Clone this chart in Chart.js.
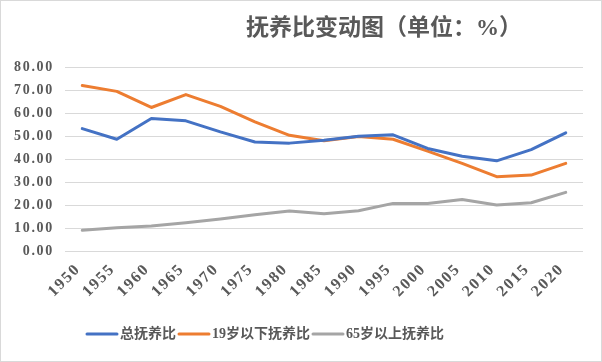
<!DOCTYPE html>
<html>
<head>
<meta charset="utf-8">
<script src="https://cdn.jsdelivr.net/npm/chart.js@4.4.1/dist/chart.umd.min.js"></script>
<style>
  html, body { margin: 0; padding: 0; background: #fff; }
</style>
</head>
<body>
<canvas id="chart" width="602" height="362"></canvas>
<script>
const years = ["1950", "1955", "1960", "1965", "1970", "1975", "1980", "1985",
  "1990", "1995", "2000", "2005", "2010", "2015", "2020"];
const totalRatio = [53.2, 48.6, 57.6, 56.6, 51.8, 47.4, 46.9, 48.2, 49.9, 50.5, 44.6, 41.2, 39.2, 44.1, 51.4];
const youngRatio = [72.0, 69.4, 62.4, 68.0, 62.9, 56.1, 50.3, 47.9, 49.8, 48.6, 43.4, 38.1, 32.3, 33.0, 38.1];
const oldRatio = [9.0, 10.1, 10.9, 12.3, 13.9, 15.8, 17.4, 16.2, 17.5, 20.7, 20.7, 22.4, 20.0, 21.0, 25.5];
const seriesNames = ["总抚养比", "19岁以下抚养比", "65岁以上抚养比"];
const yMin = 0, yMax = 80, yStep = 10;
const titleText = "抚养比变动图（单位：%）";

const textGray = "#595959";

// title, legend and frame drawn by hand to match the Excel layout
const decorPlugin = {
  id: "decor",
  beforeDraw(chart) {
    const ctx = chart.ctx;
    ctx.fillStyle = "#fff";
    ctx.fillRect(0, 0, chart.width, chart.height);
    // the Excel digits are spaced wider than Times
    ctx.letterSpacing = "1.7px";
  },
  afterDraw(chart) {
    const ctx = chart.ctx;
    ctx.letterSpacing = "0px";
    ctx.save();
    ctx.strokeStyle = "#d9d9d9";
    ctx.lineWidth = 1;
    ctx.strokeRect(0.5, 0.5, chart.width - 1, chart.height - 1);

    ctx.fillStyle = textGray;
    ctx.font = 'bold 23px "Liberation Serif", "Noto Sans CJK SC"';
    ctx.textAlign = "center";
    ctx.textBaseline = "middle";
    ctx.fillText(titleText, 384, 29);

    ctx.font = 'bold 14px "Liberation Serif", "Noto Sans CJK SC"';
    ctx.textAlign = "left";
    let x = 87;
    const y = 334;
    chart.data.datasets.forEach(ds => {
      ctx.strokeStyle = ds.borderColor;
      ctx.lineWidth = 3;
      ctx.lineCap = "round";
      ctx.beginPath();
      ctx.moveTo(x, y);
      ctx.lineTo(x + 30, y);
      ctx.stroke();
      x += 33;
      ctx.fillText(ds.label, x, y);
      x += ctx.measureText(ds.label).width + 3;
    });
    ctx.restore();
  }
};

function lineSet(label, data, color) {
  return {
    label: label,
    data: data,
    borderColor: color,
    backgroundColor: color,
    borderWidth: 3,
    pointRadius: 0,
    tension: 0,
    fill: false,
    borderCapStyle: "round",
    borderJoinStyle: "round"
  };
}

new Chart(document.getElementById("chart"), {
  type: "line",
  data: {
    labels: years,
    datasets: [
      lineSet(seriesNames[0], totalRatio, "#4472C4"),
      lineSet(seriesNames[1], youngRatio, "#ED7D31"),
      lineSet(seriesNames[2], oldRatio, "#A5A5A5")
    ]
  },
  options: {
    responsive: false,
    animation: false,
    layout: { padding: { top: 67, right: 19, left: 0, bottom: 0 } },
    plugins: {
      legend: { display: false },
      title: { display: false },
      tooltip: { enabled: false }
    },
    scales: {
      x: {
        offset: true,
        grid: { display: false },
        border: { display: false },
        ticks: {
          color: textGray,
          font: { family: '"Liberation Serif"', size: 16, weight: "bold" },
          minRotation: 45,
          maxRotation: 45,
          padding: -3,
          autoSkip: false,
          callback: function (value) {
            return this.getLabelForValue(value) + " ";
          }
        },
        afterFit: scale => { scale.height = 111; }
      },
      y: {
        min: yMin,
        max: yMax,
        border: { display: false },
        grid: { color: "#d9d9d9", lineWidth: 1, drawTicks: false },
        ticks: {
          stepSize: yStep,
          color: textGray,
          font: { family: '"Liberation Serif"', size: 14, weight: "bold" },
          padding: 11,
          callback: value => value.toFixed(2)
        },
        afterFit: scale => { scale.width = 65; }
      }
    }
  },
  plugins: [decorPlugin]
});
</script>
</body>
</html>
